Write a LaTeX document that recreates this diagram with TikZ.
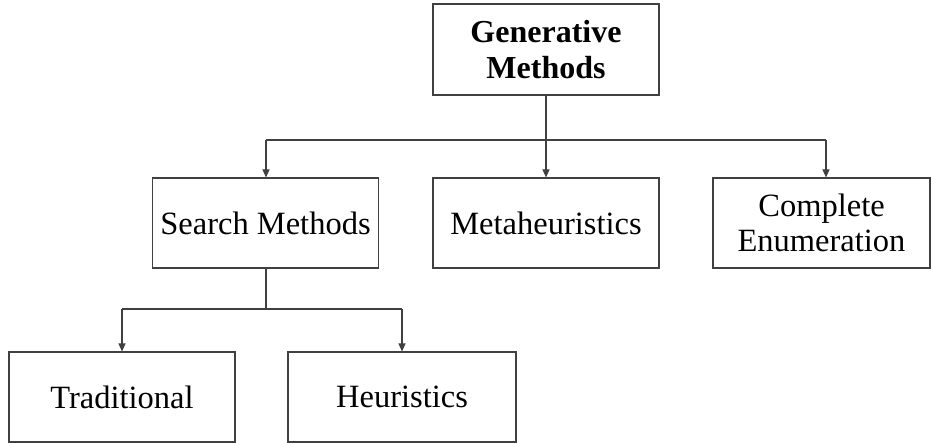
\documentclass[tikz,border=0pt]{standalone}
\usepackage{fontspec}
\setmainfont{Liberation Serif}
\usetikzlibrary{arrows.meta}
\begin{document}
\begin{tikzpicture}[x=1pt,y=-1pt,
  box/.style={draw=black!75,line width=1.1pt,fill=white,minimum width=226pt,minimum height=90pt,
    align=center,inner sep=0pt,font=\fontsize{32.5}{35}\selectfont},
  conn/.style={draw=black!75,line width=1.1pt},
  arr/.style={conn,-{Triangle[length=8pt,width=7pt]}}]
\useasboundingbox (0,0) rectangle (931,443);
\node[box,font=\bfseries\fontsize{32}{36}\selectfont,minimum height=91pt] (gen) at (546,49.5) {Generative\\Methods};
\node[box] (search) at (265.5,223) {Search Methods};
\node[box] (meta) at (546,223) {Metaheuristics};
\node[box,minimum width=217pt] (comp) at (821.5,223) {Complete\\Enumeration};
\node[box] (trad) at (122,397) {Traditional};
\node[box,minimum width=228pt] (heur) at (402,397) {Heuristics};
\coordinate (j1) at (546,140);
\coordinate (j1l) at (266,140);
\coordinate (j1r) at (826,140);
\coordinate (j2) at (266,309);
\coordinate (j2l) at (122,309);
\coordinate (j2r) at (402,309);
\draw[conn] (gen.south) -- (j1);
\draw[conn] (j1l) -- (j1r);
\draw[arr] (j1l) -- (j1l |- search.north);
\draw[arr] (j1) -- (meta.north);
\draw[arr] (j1r) -- (j1r |- comp.north);
\draw[conn] (search.south -| j2) -- (j2);
\draw[conn] (j2l) -- (j2r);
\draw[arr] (j2l) -- (trad.north);
\draw[arr] (j2r) -- (heur.north);
\end{tikzpicture}
\end{document}
